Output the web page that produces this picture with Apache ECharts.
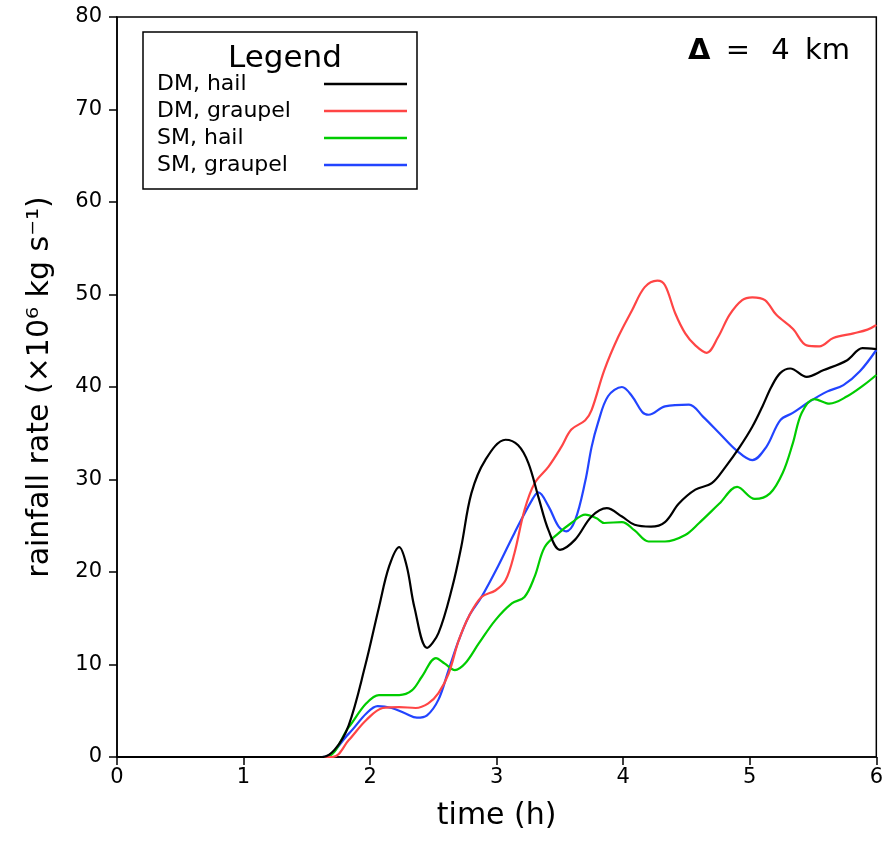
<!DOCTYPE html>
<html>
<head>
<meta charset="utf-8">
<script src="https://cdn.jsdelivr.net/npm/echarts@6/dist/echarts.min.js"></script>
<style>html,body{margin:0;padding:0;background:#fff;}#c{width:886px;height:843px;}</style>
</head>
<body>
<div id="c"></div>
<script>
const seriesNames = ['DM, hail', 'DM, graupel', 'SM, hail', 'SM, graupel'];
const seriesColors = ['#000000', '#ff4545', '#00cc00', '#2244ff'];

const timeDMhail = [0, 1.62, 1.72, 1.83, 1.96, 2.07, 2.15, 2.23, 2.29, 2.35, 2.45, 2.54, 2.65, 2.72, 2.80, 2.91, 3.07, 3.17, 3.25, 3.33, 3.41, 3.50, 3.62, 3.75, 3.87, 3.99, 4.09, 4.22, 4.33, 4.44, 4.57, 4.70, 4.81, 4.92, 5.02, 5.10, 5.17, 5.24, 5.32, 5.45, 5.58, 5.77, 5.89, 6.0];
const dmHail = [0, 0, 0.8, 3.4, 9.8, 16.2, 20.6, 22.7, 20.6, 16.2, 11.8, 13.4, 18.4, 22.7, 28.5, 32.1, 34.3, 33.7, 31.8, 28.1, 24.5, 22.4, 23.5, 26.0, 26.9, 26.0, 25.1, 24.9, 25.4, 27.4, 28.9, 29.6, 31.4, 33.5, 35.7, 37.9, 40.0, 41.5, 42.0, 41.1, 41.8, 42.9, 44.2, 44.1];

const timeDMgraupel = [0, 1.70, 1.83, 1.97, 2.10, 2.23, 2.36, 2.46, 2.54, 2.62, 2.70, 2.78, 2.88, 2.99, 3.07, 3.14, 3.22, 3.30, 3.41, 3.51, 3.59, 3.70, 3.75, 3.85, 3.96, 4.07, 4.17, 4.27, 4.33, 4.41, 4.49, 4.57, 4.66, 4.75, 4.84, 4.94, 5.02, 5.12, 5.21, 5.34, 5.45, 5.55, 5.66, 5.82, 5.93, 6.0];
const dmGraupel = [0, 0, 1.8, 4.0, 5.3, 5.4, 5.3, 5.8, 6.9, 9.0, 12.6, 15.2, 17.3, 18.0, 19.1, 22.0, 26.7, 29.6, 31.4, 33.5, 35.4, 36.4, 37.5, 41.8, 45.4, 48.3, 50.8, 51.5, 51.0, 48.0, 45.8, 44.5, 43.7, 45.4, 47.8, 49.4, 49.7, 49.4, 47.8, 46.3, 44.5, 44.4, 45.3, 45.8, 46.2, 46.7];

const timeSMhail = [0, 1.64, 1.83, 1.97, 2.07, 2.23, 2.33, 2.41, 2.52, 2.59, 2.67, 2.75, 2.86, 2.99, 3.12, 3.22, 3.30, 3.38, 3.49, 3.59, 3.70, 3.79, 3.85, 3.99, 4.09, 4.20, 4.33, 4.49, 4.60, 4.76, 4.90, 5.04, 5.16, 5.26, 5.34, 5.41, 5.51, 5.63, 5.77, 5.90, 6.0];
const smHail = [0, 0, 3.2, 5.8, 6.7, 6.7, 7.2, 8.7, 10.7, 10.1, 9.4, 10.1, 12.3, 14.8, 16.6, 17.3, 19.5, 22.7, 24.2, 25.3, 26.2, 25.8, 25.3, 25.4, 24.5, 23.3, 23.3, 24.0, 25.3, 27.4, 29.2, 27.9, 28.5, 30.7, 33.9, 37.2, 38.7, 38.2, 39.0, 40.2, 41.3];

const timeSMgraupel = [0, 1.62, 1.83, 1.97, 2.06, 2.17, 2.28, 2.37, 2.45, 2.54, 2.62, 2.70, 2.78, 2.88, 3.01, 3.14, 3.28, 3.33, 3.41, 3.49, 3.55, 3.62, 3.70, 3.75, 3.80, 3.88, 3.99, 4.07, 4.15, 4.20, 4.33, 4.52, 4.63, 4.76, 4.89, 5.02, 5.13, 5.24, 5.34, 5.47, 5.61, 5.74, 5.87, 6.0];
const smGraupel = [0, 0, 2.5, 4.7, 5.5, 5.3, 4.7, 4.25, 4.5, 6.2, 9.4, 12.6, 15.2, 17.3, 20.6, 24.2, 27.8, 28.6, 27.1, 24.9, 24.4, 25.6, 29.8, 33.5, 36.1, 39.0, 40.0, 39.0, 37.3, 37.0, 37.9, 38.1, 36.8, 35.0, 33.2, 32.1, 33.5, 36.4, 37.2, 38.4, 39.5, 40.2, 41.7, 44.0];

const xTicks = [0, 1, 2, 3, 4, 5, 6];
const yTicks = [0, 10, 20, 30, 40, 50, 60, 70, 80];

const allTimes = [timeDMhail, timeDMgraupel, timeSMhail, timeSMgraupel];
const allValues = [dmHail, dmGraupel, smHail, smGraupel];

const FONT = 'DejaVu Sans';

const chart = echarts.init(document.getElementById('c'), null, { renderer: 'canvas' });

const series = seriesNames.map((name, i) => ({
  name: name,
  type: 'line',
  data: allTimes[i].map((t, k) => [t, allValues[i][k]]),
  showSymbol: false,
  symbol: 'none',
  smooth: 0.35,
  lineStyle: { color: seriesColors[i], width: 2.2 },
  itemStyle: { color: seriesColors[i] },
  z: 10 - i,
  silent: true
}));

chart.setOption({
  animation: false,
  backgroundColor: '#ffffff',
  title: [
    {
      text: 'Legend',
      left: 280,
      top: 38,
      textAlign: 'center',
      textStyle: { fontFamily: FONT, fontSize: 31, fontWeight: 'normal', color: '#000' }
    },
    {
      text: '{d|Δ} {e|=} {e|4} km',
      right: 31,
      top: 32,
      textStyle: {
        fontFamily: FONT, fontSize: 29, fontWeight: 'normal', color: '#000',
        rich: {
          d: { fontFamily: FONT, fontSize: 29, fontWeight: 'bold', color: '#000' },
          e: { fontFamily: FONT, fontSize: 29, color: '#000', padding: [0, 6, 0, 6] }
        }
      }
    }
  ],
  legend: {
    orient: 'vertical',
    left: 143,
    top: 32,
    width: 274,
    padding: [40, 10, 12, 14],
    borderColor: '#000',
    borderWidth: 1.5,
    backgroundColor: '#fff',
    align: 'right',
    icon: 'rect',
    itemWidth: 83,
    itemHeight: 2.5,
    itemGap: 3,
    selectedMode: false,
    data: seriesNames,
    formatter: function (name) { return '{a|' + name + '}'; },
    textStyle: {
      fontFamily: FONT, fontSize: 22, color: '#000', lineHeight: 24,
      rich: { a: { fontFamily: FONT, fontSize: 22, color: '#000', width: 162, align: 'left', lineHeight: 24 } }
    }
  },
  grid: {
    left: 117,
    right: 6,
    top: 17,
    bottom: 86,
    show: true,
    borderColor: '#000',
    borderWidth: 1.5,
    containLabel: false
  },
  xAxis: {
    type: 'value',
    min: xTicks[0],
    max: xTicks[xTicks.length - 1],
    interval: 1,
    name: 'time (h)',
    nameLocation: 'middle',
    nameGap: 44,
    nameTextStyle: { fontFamily: FONT, fontSize: 30, color: '#000' },
    axisLine: { show: true, lineStyle: { color: '#000', width: 1.5 } },
    axisTick: { show: true, length: 8, lineStyle: { color: '#000', width: 1.5 } },
    axisLabel: { fontFamily: FONT, fontSize: 21, color: '#000', margin: 10 },
    splitLine: { show: false }
  },
  yAxis: {
    type: 'value',
    min: yTicks[0],
    max: yTicks[yTicks.length - 1],
    interval: 10,
    name: 'rainfall rate (×10⁶ kg s⁻¹)',
    nameLocation: 'middle',
    nameGap: 62,
    nameTextStyle: { fontFamily: FONT, fontSize: 30, color: '#000' },
    axisLine: { show: true, lineStyle: { color: '#000', width: 1.5 } },
    axisTick: { show: true, length: 8, lineStyle: { color: '#000', width: 1.5 } },
    axisLabel: { fontFamily: FONT, fontSize: 21, color: '#000', margin: 15 },
    splitLine: { show: false }
  },
  series: series
});
</script>
</body>
</html>
